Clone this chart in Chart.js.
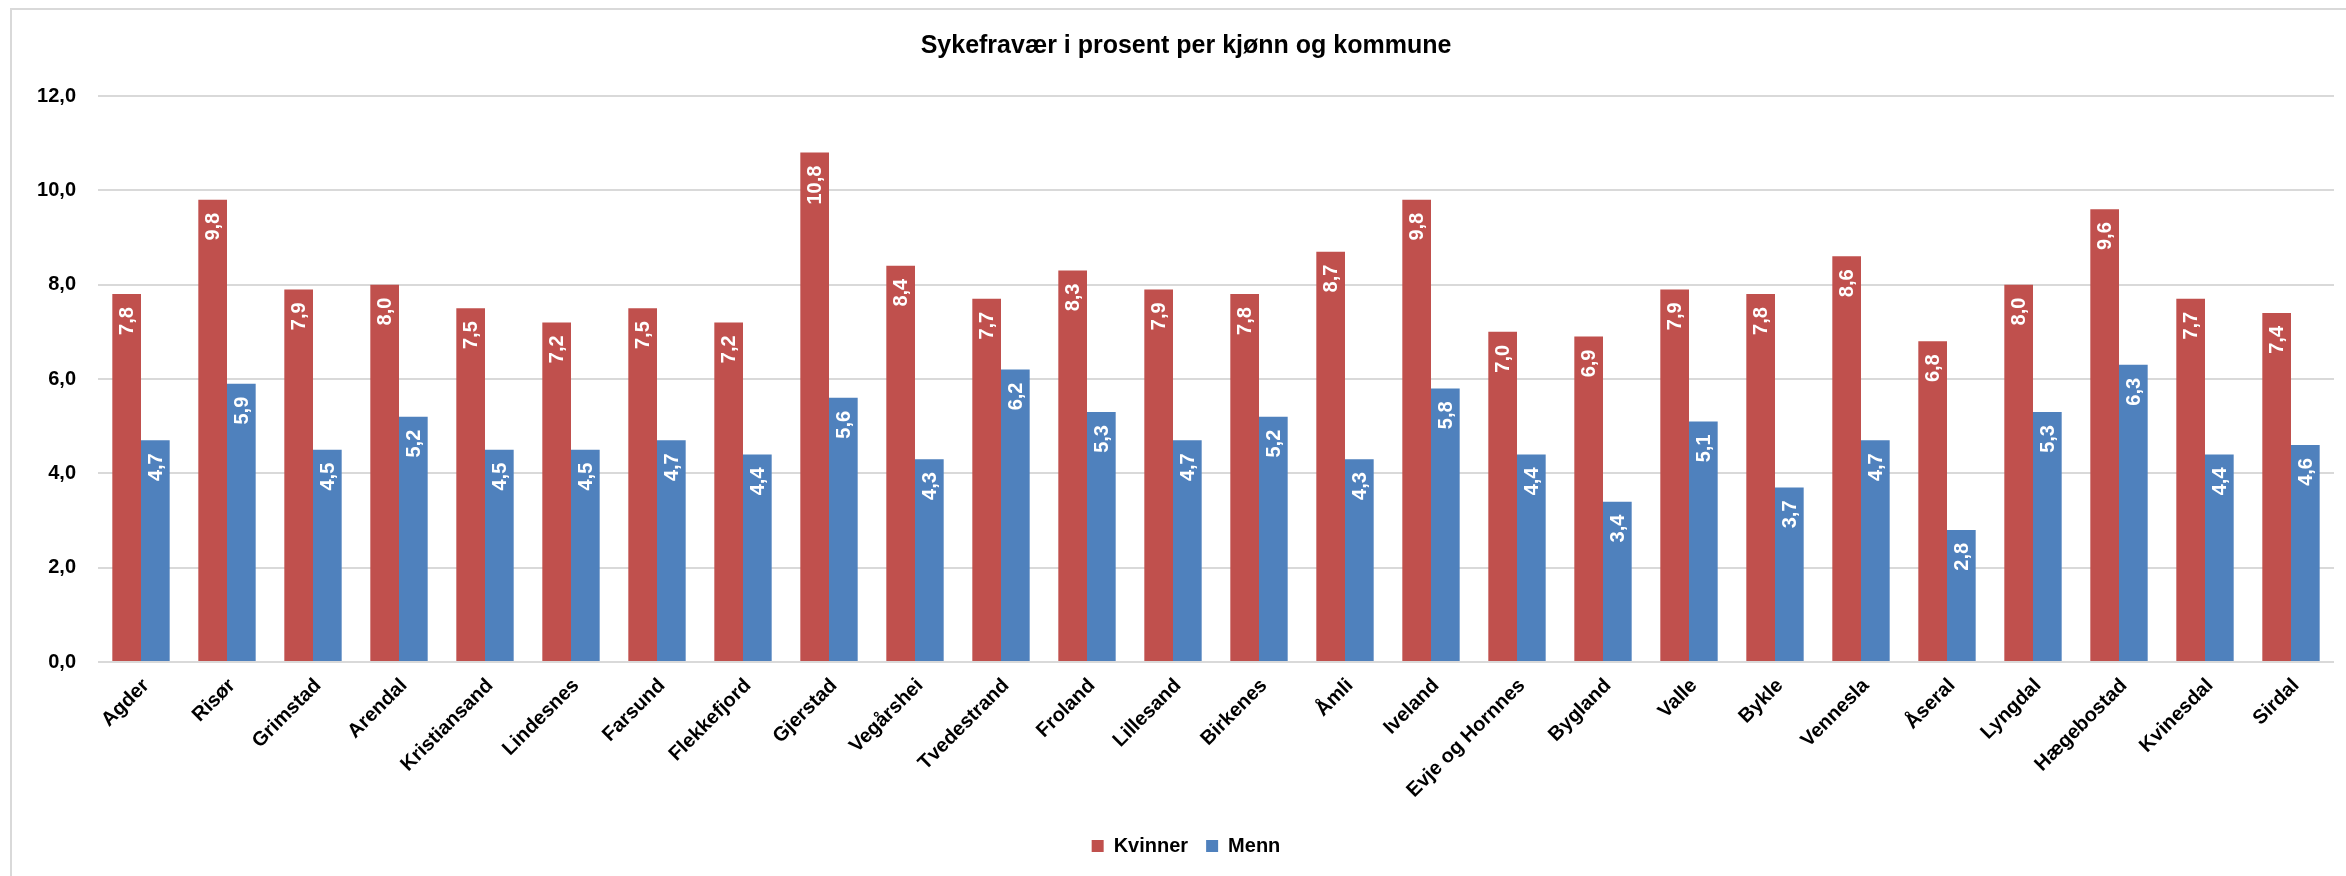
<!DOCTYPE html>
<html>
<head>
<meta charset="utf-8">
<script src="https://cdn.jsdelivr.net/npm/chart.js@4.4.0/dist/chart.umd.min.js"></script>
<style>
  html, body { margin: 0; padding: 0; background: #fff; }
  #wrap { position: relative; width: 2346px; height: 876px; }
</style>
</head>
<body>
<div id="wrap"><canvas id="c" width="2346" height="876"></canvas></div>
<script>
const categories = ["Agder","Risør","Grimstad","Arendal","Kristiansand","Lindesnes","Farsund","Flekkefjord","Gjerstad","Vegårshei","Tvedestrand","Froland","Lillesand","Birkenes","Åmli","Iveland","Evje og Hornnes","Bygland","Valle","Bykle","Vennesla","Åseral","Lyngdal","Hægebostad","Kvinesdal","Sirdal"];
const kvinner = [7.8, 9.8, 7.9, 8.0, 7.5, 7.2, 7.5, 7.2, 10.8, 8.4, 7.7, 8.3, 7.9, 7.8, 8.7, 9.8, 7.0, 6.9, 7.9, 7.8, 8.6, 6.8, 8.0, 9.6, 7.7, 7.4];
const menn    = [4.7, 5.9, 4.5, 5.2, 4.5, 4.5, 4.7, 4.4, 5.6, 4.3, 6.2, 5.3, 4.7, 5.2, 4.3, 5.8, 4.4, 3.4, 5.1, 3.7, 4.7, 2.8, 5.3, 6.3, 4.4, 4.6];
const seriesNames = ["Kvinner", "Menn"];
const yTicks = [0, 2, 4, 6, 8, 10, 12];
const titleText = "Sykefravær i prosent per kjønn og kommune";

const fmt = v => Number(v).toFixed(1).replace('.', ',');
const FONT = "'Liberation Sans', Arial, sans-serif";

const frame = {
  id: 'frame',
  beforeDraw(chart) {
    const ctx = chart.ctx;
    ctx.save();
    ctx.fillStyle = '#ffffff';
    ctx.fillRect(0, 0, chart.width, chart.height);
    ctx.strokeStyle = '#d9d9d9';
    ctx.lineWidth = 2;
    ctx.beginPath();
    ctx.moveTo(11, chart.height);
    ctx.lineTo(11, 9);
    ctx.lineTo(chart.width, 9);
    ctx.stroke();
    ctx.restore();
  }
};

const barLabels = {
  id: 'barLabels',
  afterDatasetsDraw(chart) {
    const ctx = chart.ctx;
    ctx.save();
    ctx.fillStyle = '#ffffff';
    ctx.font = "bold 20px " + FONT;
    ctx.textAlign = 'right';
    ctx.textBaseline = 'middle';
    chart.data.datasets.forEach((ds, di) => {
      const meta = chart.getDatasetMeta(di);
      meta.data.forEach((el, i) => {
        ctx.save();
        ctx.translate(el.x, el.y + 13);
        ctx.rotate(-Math.PI / 2);
        ctx.fillText(fmt(ds.data[i]), 0, 1);
        ctx.restore();
      });
    });
    ctx.restore();
  }
};

new Chart(document.getElementById('c'), {
  type: 'bar',
  data: {
    labels: categories,
    datasets: [
      { label: seriesNames[0], data: kvinner, backgroundColor: '#C0504D', borderWidth: 0, categoryPercentage: 0.667, barPercentage: 1.0 },
      { label: seriesNames[1], data: menn, backgroundColor: '#4F81BD', borderWidth: 0, categoryPercentage: 0.667, barPercentage: 1.0 }
    ]
  },
  options: {
    responsive: false,
    animation: false,
    devicePixelRatio: 1,
    layout: { padding: { left: 38, right: 12, top: 0, bottom: 10 } },
    plugins: {
      title: {
        display: true,
        text: titleText,
        color: '#000',
        font: { family: FONT, size: 25, weight: 'bold' },
        padding: { top: 31, bottom: 35 }
      },
      legend: {
        display: true,
        position: 'bottom',
        labels: {
          color: '#000',
          font: { family: FONT, size: 20, weight: 'bold' },
          boxWidth: 12,
          boxHeight: 12,
          padding: 18
        }
      },
      tooltip: { enabled: false }
    },
    scales: {
      x: {
        offset: true,
        grid: { display: false, drawTicks: false },
        border: { display: false },
        ticks: {
          color: '#000',
          font: { family: FONT, size: 20, weight: 'bold' },
          minRotation: 45,
          maxRotation: 45,
          autoSkip: false,
          padding: 12,
          labelOffset: 5
        },
        afterFit(scale) { scale.height = 156; }
      },
      y: {
        min: 0,
        max: 12,
        afterBuildTicks(scale) { scale.ticks = yTicks.map(v => ({ value: v })); },
        grid: { color: '#d9d9d9', lineWidth: 2, drawTicks: false },
        border: { display: false },
        ticks: {
          color: '#000',
          font: { family: FONT, size: 20, weight: 'bold' },
          padding: 22,
          callback: v => fmt(v)
        },
        afterFit(scale) { scale.width = 60; }
      }
    }
  },
  plugins: [frame, barLabels]
});
</script>
</body>
</html>
